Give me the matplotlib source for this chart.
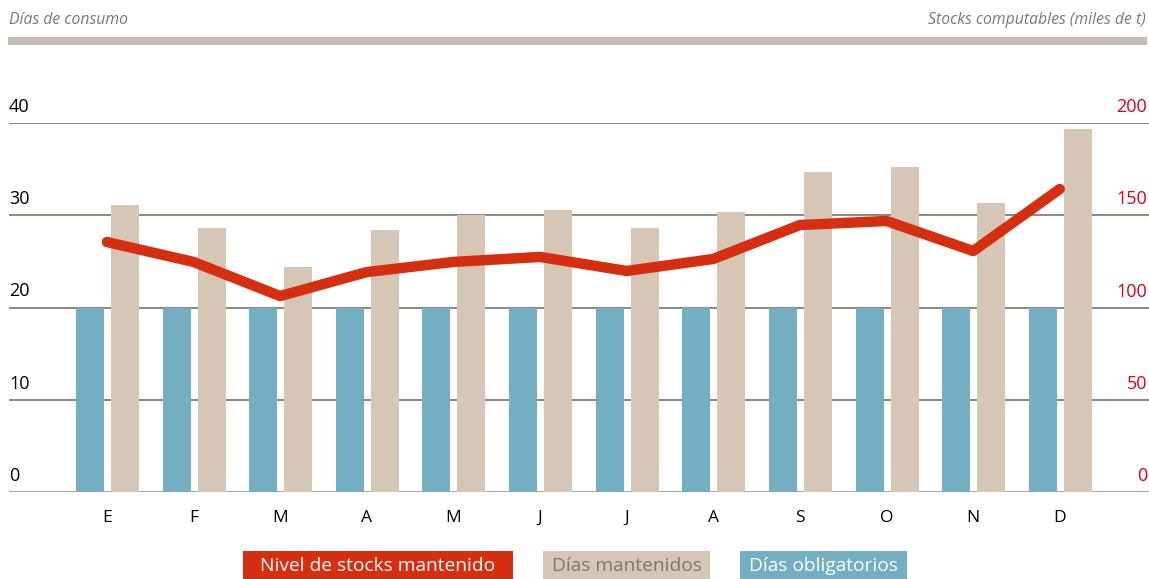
import matplotlib
matplotlib.use("Agg")
import matplotlib.pyplot as plt
from matplotlib.patches import Rectangle
import matplotlib.transforms as mtransforms

months = ["E", "F", "M", "A", "M", "J", "J", "A", "S", "O", "N", "D"]
dias_obligatorios = [20, 20, 20, 20, 20, 20, 20, 20, 20, 20, 20, 20]
dias_mantenidos = [31.1, 28.6, 24.4, 28.4, 30.0, 30.6, 28.6, 30.4, 34.7, 35.2, 31.3, 39.3]
nivel_stocks = [135.5, 124.7, 106.2, 119.2, 124.7, 127.4, 119.8, 126.3, 144.7, 146.9, 130.6, 164.2]
left_ticks = [0, 10, 20, 30, 40]
right_ticks = [0, 50, 100, 150, 200]

BLUE = "#74aec3"
BEIGE = "#d5c6b5"
RED = "#d62e10"
TICKRED = "#e0001b"
GRID = "#8f8c84"
FONT = ["Open Sans", "DejaVu Sans"]

plt.rcParams['font.family'] = FONT
WEIGHT = 500

W, H = 1149, 579
fig = plt.figure(figsize=(W / 100, H / 100), dpi=100)

ax = fig.add_axes([9 / W, 1 - 492 / H, 1140 / W, (492 - 123) / H])
x = list(range(len(months)))
ax.bar([i - 0.196 for i in x], dias_obligatorios, width=0.323, color=BLUE, zorder=2)
ax.bar([i + 0.208 for i in x], dias_mantenidos, width=0.323, color=BEIGE, zorder=2)
ax.set_ylim(0, 40)
ax.set_xlim(-1.13, 12.03)

for v in left_ticks:
    ax.axhline(v, color=GRID, lw=1.5 if v else 1.8, zorder=1)

for s in ax.spines.values():
    s.set_visible(False)
ax.set_yticks([])
ax.set_xticks(x)
ax.set_xticklabels(months, fontsize=12.5, color="black", fontweight=WEIGHT)
ax.tick_params(axis='x', length=0, pad=13)

ax2 = ax.twinx()
ax2.set_ylim(0, 200)
ax2.plot(x, nivel_stocks, color=RED, lw=7.5, solid_capstyle='round', solid_joinstyle='round', zorder=5)
ax2.set_yticks([])
for s in ax2.spines.values():
    s.set_visible(False)

for v in left_ticks:
    tr = mtransforms.blended_transform_factory(ax.transAxes, ax.transData)
    tr = mtransforms.offset_copy(tr, fig=fig, x=0, y=7, units='dots')
    ax.text(0.0, v, str(v), transform=tr, ha='left', va='bottom', fontsize=13, color="black",
            fontweight=WEIGHT)
for v in right_ticks:
    tr = mtransforms.blended_transform_factory(ax2.transAxes, ax2.transData)
    tr = mtransforms.offset_copy(tr, fig=fig, x=-2, y=7, units='dots')
    ax2.text(1.0, v, str(v), transform=tr, ha='right', va='bottom', fontsize=13, color=TICKRED,
             fontweight=WEIGHT)

# Header
fig.text(9 / W, 1 - 20 / H, "Días de consumo", ha='left', va='center', fontsize=11.3,
         style='italic', color="#7b7a70", fontweight=WEIGHT)
fig.text(1146 / W, 1 - 20 / H, "Stocks computables (miles de t)", ha='right', va='center',
         fontsize=11.3, style='italic', color="#7b7a70", fontweight=WEIGHT)
fig.add_artist(Rectangle((8 / W, 1 - 45 / H), 1139 / W, 8 / H, transform=fig.transFigure,
                         color="#c5bcb5", lw=0))

# Legend
legend_items = [
    ("Nivel de stocks mantenido", 243, 513, RED, "white"),
    ("Días mantenidos", 543, 710, BEIGE, "#7b7a70"),
    ("Días obligatorios", 740, 907, BLUE, "white"),
]
for label, x0, x1, fc, tc in legend_items:
    fig.add_artist(Rectangle((x0 / W, 0), (x1 - x0) / W, 28 / H, transform=fig.transFigure,
                             color=fc, lw=0))
    fig.text((x0 + x1) / 2 / W, 1 - 566 / H, label, ha='center', va='center', fontsize=13.8,
             color=tc, fontweight=WEIGHT)

fig.savefig("out.png", dpi=100)
